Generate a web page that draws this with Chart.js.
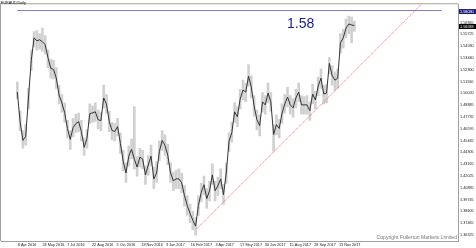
<!DOCTYPE html>
<html>
<head>
<meta charset="utf-8">
<script src="https://cdn.jsdelivr.net/npm/chart.js@4.4.1/dist/chart.umd.min.js"></script>
<style>
body { margin: 0; background: #fff; }
#wrap { position: relative; width: 476px; height: 248px; overflow: hidden; font-family: "Liberation Sans", Arial, sans-serif; }
#chart { position: absolute; left: 0; top: 0; }
.txt { position: absolute; white-space: nowrap; line-height: 1; }
#title { left: 1px; top: 1.5px; font-size: 3.7px; color: #000; }
#big { left: 287px; top: 16px; font-size: 14px; color: #1a1a8c; }
#copy { right: 19px; top: 234.5px; font-size: 5.1px; color: #777; }
</style>
</head>
<body>
<div id="wrap">
	<canvas id="chart" width="476" height="248"></canvas>
	<div class="txt" id="title">EURAUD,Daily</div>
	<div class="txt" id="big">1.58</div>
	<div class="txt" id="copy">Copyright Fullerton Markets Limited</div>
</div>
<script>
// one sample every few trading days (EURAUD daily)
const closes = [
	1.5014, 1.4728, 1.4546, 1.4584, 1.4957, 1.5319, 1.5539, 1.5510, 1.5520, 1.5501,
	1.5472, 1.5348, 1.5243, 1.5233, 1.5148, 1.4985, 1.4909, 1.4814, 1.4661, 1.4556,
	1.4670, 1.4708, 1.4728, 1.4632, 1.4479, 1.4565, 1.4804, 1.4813, 1.4823, 1.4747,
	1.4737, 1.4957, 1.4899, 1.4728, 1.4642, 1.4632, 1.4680, 1.4517, 1.4346, 1.4231,
	1.4393, 1.4460, 1.4365, 1.4288, 1.4384, 1.4365, 1.4212, 1.4308, 1.4393, 1.4174,
	1.4231, 1.4441, 1.4546, 1.4498, 1.4403, 1.4231, 1.4155, 1.4174, 1.4174, 1.4136,
	1.4011, 1.3916, 1.3840, 1.3773, 1.3716, 1.3916, 1.4040, 1.4117, 1.3983, 1.4059,
	1.4212, 1.4059, 1.4107, 1.4174, 1.4021, 1.4231, 1.4537, 1.4622, 1.4823, 1.4775,
	1.4947, 1.5033, 1.5014, 1.5167, 1.5062, 1.4880, 1.4747, 1.4689, 1.4919, 1.4890,
	1.5004, 1.4919, 1.4603, 1.4699, 1.4661, 1.4804, 1.4899, 1.4966, 1.4890, 1.4861,
	1.4957, 1.5014, 1.4890, 1.4890, 1.4890, 1.4833, 1.4995, 1.4938, 1.5071, 1.5148,
	1.4995, 1.5004, 1.5291, 1.5176, 1.5129, 1.5148, 1.5491, 1.5539, 1.5634, 1.5673,
	1.5663, 1.5658
];
const highs = [
	1.5110, 1.4830, 1.4640, 1.4700, 1.5050, 1.5420, 1.5600, 1.5610, 1.5580, 1.5634,
	1.5560, 1.5420, 1.5330, 1.5320, 1.5250, 1.5080, 1.4990, 1.4910, 1.4740, 1.4640,
	1.4760, 1.4800, 1.4810, 1.4740, 1.4570, 1.4650, 1.4900, 1.4880, 1.4910, 1.4840,
	1.4820, 1.5081, 1.4990, 1.4830, 1.4720, 1.4710, 1.4760, 1.4620, 1.4450, 1.4330,
	1.4490, 1.4560, 1.4871, 1.4390, 1.4470, 1.4450, 1.4300, 1.4400, 1.4500, 1.4290,
	1.4340, 1.4540, 1.4640, 1.4600, 1.4510, 1.4330, 1.4240, 1.4260, 1.4270, 1.4230,
	1.4110, 1.4010, 1.3930, 1.3860, 1.3800, 1.4010, 1.4130, 1.4200, 1.4080, 1.4150,
	1.4320, 1.4150, 1.4190, 1.4270, 1.4120, 1.4330, 1.4620, 1.4720, 1.4910, 1.4870,
	1.5040, 1.5130, 1.5100, 1.5280, 1.5170, 1.4980, 1.4840, 1.4790, 1.5010, 1.4980,
	1.5100, 1.5010, 1.4700, 1.4790, 1.4750, 1.4900, 1.4990, 1.5060, 1.4980, 1.4950,
	1.5040, 1.5100, 1.4980, 1.4970, 1.4980, 1.4920, 1.5090, 1.5020, 1.5160, 1.5240,
	1.5080, 1.5090, 1.5348, 1.5270, 1.5210, 1.5240, 1.5580, 1.5620, 1.5720, 1.5749,
	1.5740, 1.5700
];
const lows = [
	1.4950, 1.4640, 1.4470, 1.4500, 1.4850, 1.5220, 1.5450, 1.5420, 1.5430, 1.5410,
	1.5380, 1.5250, 1.5150, 1.5140, 1.5050, 1.4900, 1.4820, 1.4720, 1.4570, 1.4460,
	1.4580, 1.4620, 1.4630, 1.4540, 1.4400, 1.4470, 1.4710, 1.4720, 1.4730, 1.4660,
	1.4640, 1.4860, 1.4810, 1.4630, 1.4550, 1.4540, 1.4590, 1.4420, 1.4250, 1.4140,
	1.4300, 1.4370, 1.4270, 1.4200, 1.4290, 1.4270, 1.4120, 1.4210, 1.4300, 1.4080,
	1.4140, 1.4350, 1.4450, 1.4400, 1.4310, 1.4140, 1.4060, 1.4080, 1.4080, 1.4040,
	1.3910, 1.3820, 1.3750, 1.3680, 1.3630, 1.3820, 1.3950, 1.4020, 1.3890, 1.3960,
	1.4120, 1.3960, 1.4010, 1.4080, 1.3930, 1.4130, 1.4440, 1.4530, 1.4720, 1.4680,
	1.4850, 1.4940, 1.4920, 1.5070, 1.4960, 1.4780, 1.4650, 1.4590, 1.4820, 1.4800,
	1.4910, 1.4830, 1.4441, 1.4600, 1.4570, 1.4710, 1.4810, 1.4870, 1.4800, 1.4770,
	1.4860, 1.4920, 1.4800, 1.4800, 1.4800, 1.4740, 1.4900, 1.4850, 1.4980, 1.5050,
	1.4900, 1.4910, 1.5190, 1.5080, 1.5030, 1.5050, 1.5390, 1.5440, 1.5540, 1.5580,
	1.5491, 1.5600
];

const xLabels = ["8 Apr 2016", "24 May 2016", "7 Jul 2016", "22 Aug 2016", "5 Oct 2016",
	"18 Nov 2016", "3 Jan 2017", "16 Feb 2017", "3 Apr 2017", "17 May 2017",
	"30 Jun 2017", "15 Aug 2017", "28 Sep 2017", "13 Nov 2017"];
const xLabelPos = [0.17, 9.03, 17.9, 26.77, 35.63, 44.5, 53.37, 62.23, 71.1, 79.97,
	88.83, 97.7, 106.57, 115.43];
const yTicks = [1.56865, 1.55725, 1.54580, 1.53440, 1.52300, 1.51160, 1.50020, 1.48885,
	1.47735, 1.46595, 1.45445, 1.44305, 1.43165, 1.42025, 1.40885, 1.39745, 1.38605,
	1.37465, 1.36325];

const levelPrice = 1.58030;
const lastPrice = 1.56583;
const trendX = [64.3, 152.4];
const trendY = [1.3687, 1.6062];

const X_MIN = 0;
const X_MAX = 152.33;
const Y_MIN = 1.35724;
const Y_MAX = 1.58636;

const FONT = "'Liberation Sans', Arial, sans-serif";

const framePlugin = {
	id: "frame",
	beforeDatasetsDraw(chart) {
		const { ctx, chartArea: a } = chart;
		ctx.save();
		ctx.strokeStyle = "#a0a0a0";
		ctx.lineWidth = 1;
		ctx.beginPath();
		ctx.moveTo(0, a.top - 0.5);
		ctx.lineTo(a.right, a.top - 0.5);
		ctx.moveTo(a.left - 0.5, a.top);
		ctx.lineTo(a.left - 0.5, a.bottom);
		ctx.stroke();
		ctx.restore();
	},
	afterDraw(chart) {
		const { ctx, chartArea: a, scales } = chart;
		const boxes = [[levelPrice, "#1e1e78"], [lastPrice, "#000000"]];
		ctx.save();
		ctx.font = "3.8px " + FONT;
		ctx.textBaseline = "middle";
		boxes.forEach(([p, bg]) => {
			const py = scales.y.getPixelForValue(p) + 1;
			ctx.fillStyle = bg;
			ctx.fillRect(a.right + 1, py - 2.5, 17, 5);
			ctx.fillStyle = "#ffffff";
			ctx.fillText(p.toFixed(5), a.right + 2, py);
		});
		ctx.restore();
	},
};

const drawChart = () => {
	const ctx = document.getElementById("chart").getContext("2d");

	new Chart(ctx, {
		type: "bar",
		data: {
			datasets: [
				{
					type: "bar",
					data: closes.map((c, i) => ({ x: i, y: [lows[i], highs[i]] })),
					backgroundColor: "#d0d0d0",
					barThickness: 2,
					order: 4,
				},
				{
					type: "line",
					data: closes.map((c, i) => ({ x: i, y: c })),
					borderColor: "#333333",
					borderWidth: 1,
					pointRadius: 0,
					tension: 0,
					order: 3,
				},
				{
					type: "line",
					data: trendX.map((x, i) => ({ x: x, y: trendY[i] })),
					borderColor: "#ff5c5c",
					borderWidth: 1,
					borderDash: [1, 1],
					pointRadius: 0,
					order: 2,
				},
				{
					type: "line",
					data: [{ x: X_MIN, y: levelPrice }, { x: X_MAX, y: levelPrice }],
					borderColor: "#7c7cc4",
					borderWidth: 1,
					pointRadius: 0,
					order: 1,
				},
			],
		},
		options: {
			responsive: false,
			animation: false,
			layout: { padding: { left: 1, top: 1, right: 0, bottom: 0 } },
			plugins: {
				legend: { display: false },
				tooltip: { enabled: false },
				title: { display: false },
			},
			scales: {
				x: {
					type: "linear",
					min: X_MIN,
					max: X_MAX,
					grid: { display: false, drawTicks: false },
					border: { display: true, color: "#a0a0a0" },
					afterBuildTicks: (scale) => {
						scale.ticks = xLabelPos.map((v) => ({ value: v }));
					},
					afterFit: (scale) => {
						scale.height = 7;
					},
					ticks: {
						autoSkip: false,
						maxRotation: 0,
						align: "start",
						padding: 2,
						color: "#222",
						font: { size: 3.8, family: FONT },
						callback: (v, i) => xLabels[i],
					},
				},
				y: {
					position: "right",
					min: Y_MIN,
					max: Y_MAX,
					grid: { display: false, drawTicks: false },
					border: { display: true, color: "#a0a0a0" },
					afterBuildTicks: (scale) => {
						scale.ticks = yTicks.map((v) => ({ value: v }));
					},
					afterFit: (scale) => {
						scale.width = 18;
					},
					ticks: {
						autoSkip: false,
						padding: 2,
						color: "#222",
						font: { size: 3.8, family: FONT },
						callback: (v) => v.toFixed(5),
					},
				},
			},
		},
		plugins: [framePlugin],
	});
};

drawChart();
</script>
</body>
</html>
